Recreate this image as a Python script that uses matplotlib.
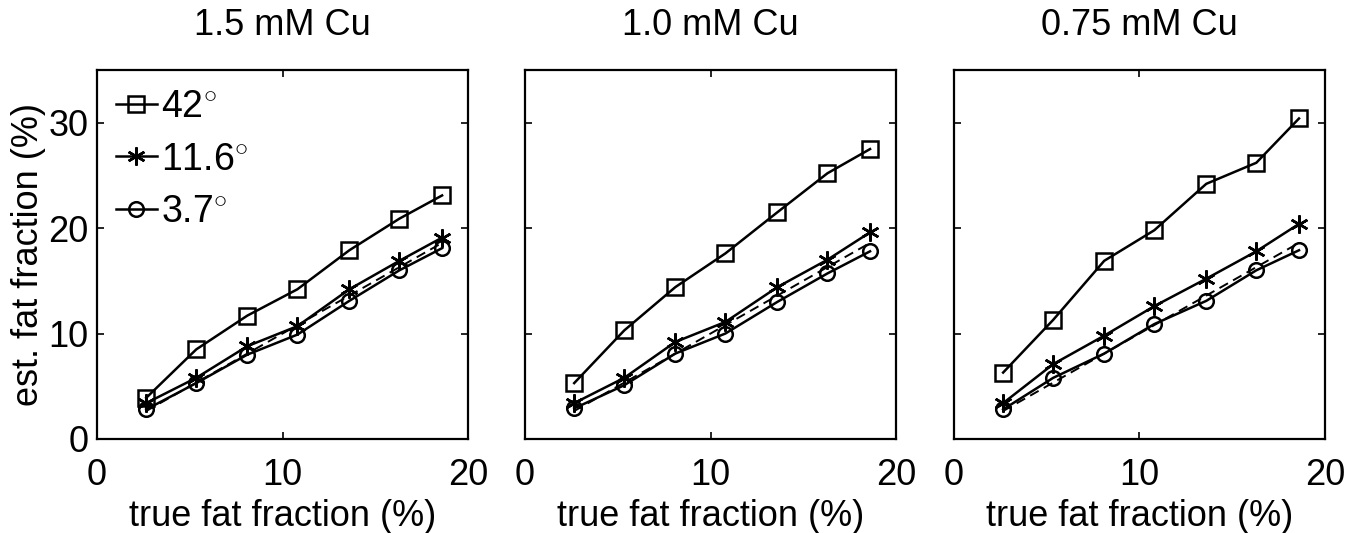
import numpy as np
import matplotlib.pyplot as plt

plt.rcParams['font.family'] = ['Liberation Sans', 'DejaVu Sans']
plt.rcParams['mathtext.fontset'] = 'custom'
plt.rcParams['mathtext.rm'] = 'Liberation Sans'

# true fat fraction (%)
true_ff = [2.65, 5.35, 8.1, 10.8, 13.6, 16.3, 18.6]

titles = ["1.5 mM Cu", "1.0 mM Cu", "0.75 mM Cu"]
labels = [r"42$^{\circ}$", r"11.6$^{\circ}$", r"3.7$^{\circ}$"]

# estimated fat fraction (%) per panel: 42 deg, 11.6 deg, 3.7 deg
est_15 = [[3.9, 8.5, 11.7, 14.2, 17.9, 20.9, 23.1],
          [3.4, 5.8, 8.8, 10.7, 14.2, 16.9, 19.1],
          [2.8, 5.3, 8.0, 9.9, 13.1, 16.0, 18.1]]
est_10 = [[5.3, 10.3, 14.4, 17.6, 21.5, 25.2, 27.5],
          [3.4, 5.8, 9.2, 11.1, 14.4, 17.0, 19.6],
          [2.9, 5.1, 8.1, 10.0, 13.0, 15.7, 17.8]]
est_075 = [[6.3, 11.3, 16.9, 19.8, 24.2, 26.2, 30.4],
           [3.4, 7.1, 9.8, 12.6, 15.2, 17.8, 20.4],
           [2.8, 5.8, 8.1, 10.9, 13.1, 16.0, 17.9]]
panels = [est_15, est_10, est_075]

markers = ['s', (6, 2, 0), 'o']
msizes = [11, 13, 10.5]

fig = plt.figure(figsize=(13.63, 5.33), dpi=100)
lefts = [0.0712, 0.3852, 0.6999]
for k in range(3):
    ax = fig.add_axes([lefts[k], 0.1764, 0.2722, 0.6923])
    for s in range(3):
        ax.plot(true_ff, panels[k][s], color='black', lw=1.8,
                marker=markers[s], ms=msizes[s], mfc='none', mec='black',
                mew=1.8, label=labels[s])
    ax.plot(true_ff, true_ff, color='black', lw=1.4, ls='--', dashes=(5, 3))
    ax.set_xlim(0, 20)
    ax.set_ylim(0, 35)
    ax.set_xticks([0, 10, 20])
    ax.set_yticks([0, 10, 20, 30])
    ax.tick_params(direction='in', top=True, right=True, length=5,
                   width=1.2, labelsize=26)
    ax.tick_params(axis='x', pad=14)
    ax.tick_params(axis='y', pad=6)
    for sp in ax.spines.values():
        sp.set_linewidth(1.6)
    ax.set_title(titles[k], fontsize=26, pad=25)
    ax.set_xlabel("true fat fraction (%)", fontsize=26, labelpad=4)
    if k == 0:
        ax.set_ylabel("est. fat fraction (%)", fontsize=26, labelpad=2)
        ax.legend(loc='upper left', frameon=False, fontsize=27,
                  handlelength=1.1, handletextpad=0.1, borderaxespad=0.1,
                  labelspacing=0.45)
    else:
        ax.set_yticklabels([])

fig.savefig("out.png", dpi=100)
